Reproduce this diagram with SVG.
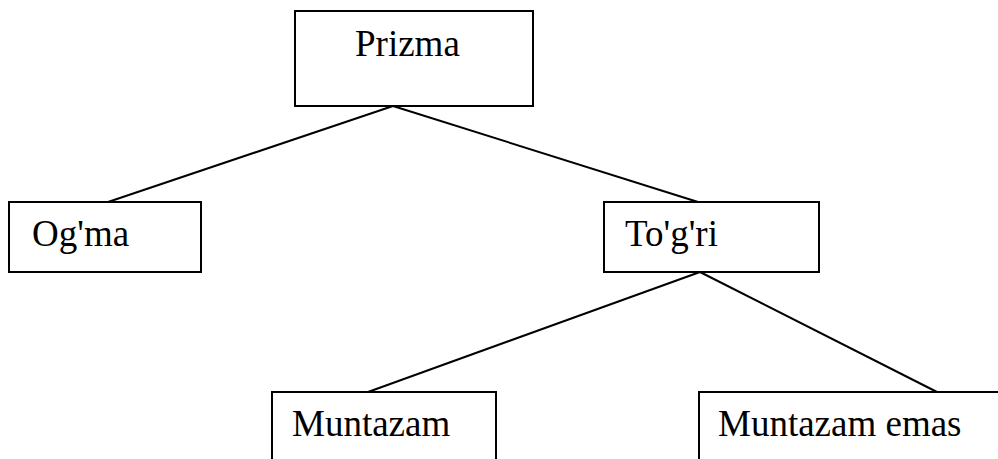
<svg xmlns="http://www.w3.org/2000/svg" width="998" height="459" viewBox="0 0 998 459">
<style>
.box{fill:#fff;stroke:#000;stroke-width:2}
.lbl{font-family:"Liberation Serif","Times New Roman",serif;font-size:37px;fill:#000}
.con line{stroke:#000;stroke-width:2}
</style>
<rect width="998" height="459" fill="#fff"/>
<g class="con" id="connectors">
<line x1="393" y1="106" x2="108" y2="202"/>
<line x1="393" y1="106" x2="698" y2="202"/>
<line x1="700" y1="272" x2="368" y2="392"/>
<line x1="700" y1="272" x2="937" y2="392"/>
</g>
<g id="prizma"><rect class="box" x="295" y="11" width="238" height="95"/><text class="lbl" x="355" y="56">Prizma</text></g>
<g id="ogma"><rect class="box" x="9" y="202" width="192" height="70"/><text class="lbl" x="32" y="246">Og'ma</text></g>
<g id="togri"><rect class="box" x="604" y="202" width="215" height="70"/><text class="lbl" x="625" y="246">To'g'ri</text></g>
<g id="muntazam"><rect class="box" x="272" y="392" width="224" height="80"/><text class="lbl" x="292" y="436">Muntazam</text></g>
<g id="muntazam-emas"><rect class="box" x="699" y="392" width="310" height="80"/><text class="lbl" x="718" y="436">Muntazam emas</text></g>
</svg>
